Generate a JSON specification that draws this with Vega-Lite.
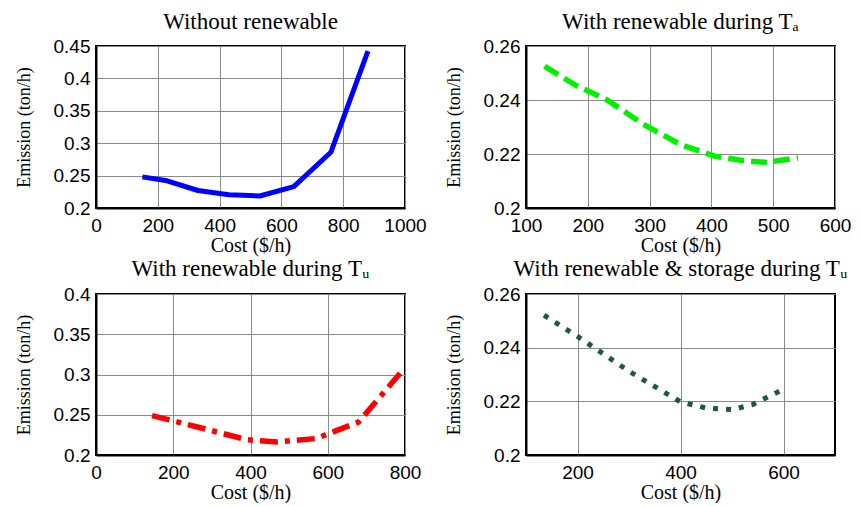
{
  "$schema": "https://vega.github.io/schema/vega-lite/v6.json",
  "background": "white",
  "padding": {"left": 14, "top": 10, "right": 5, "bottom": 0},
  "datasets": {
    "noRenewable": [
      {"cost": 150, "emission": 0.248},
      {"cost": 230, "emission": 0.242},
      {"cost": 330, "emission": 0.227},
      {"cost": 430, "emission": 0.2205},
      {"cost": 530, "emission": 0.2185},
      {"cost": 640, "emission": 0.233},
      {"cost": 760, "emission": 0.286},
      {"cost": 880, "emission": 0.442}
    ],
    "renewableTa": [
      {"cost": 130, "emission": 0.2525},
      {"cost": 180, "emission": 0.2455},
      {"cost": 230, "emission": 0.2402},
      {"cost": 290, "emission": 0.231},
      {"cost": 350, "emission": 0.2235},
      {"cost": 405, "emission": 0.2192},
      {"cost": 450, "emission": 0.2176},
      {"cost": 490, "emission": 0.2169},
      {"cost": 540, "emission": 0.2186}
    ],
    "renewableTu": [
      {"cost": 145, "emission": 0.249},
      {"cost": 265, "emission": 0.2345},
      {"cost": 390, "emission": 0.219},
      {"cost": 470, "emission": 0.2162},
      {"cost": 570, "emission": 0.2205},
      {"cost": 680, "emission": 0.241},
      {"cost": 790, "emission": 0.303}
    ],
    "storageTu": [
      {"cost": 135, "emission": 0.2521},
      {"cost": 200, "emission": 0.2442},
      {"cost": 300, "emission": 0.2312},
      {"cost": 400, "emission": 0.2198},
      {"cost": 450, "emission": 0.2175},
      {"cost": 500, "emission": 0.2169},
      {"cost": 540, "emission": 0.2188},
      {"cost": 600, "emission": 0.2245}
    ]
  },
  "columns": 2,
  "bounds": "flush",
  "spacing": {"row": 86, "column": 121},
  "concat": [
    {
      "width": 309,
      "height": 162,
      "title": {"text": "Without renewable", "offset": 3},
      "data": {"name": "noRenewable"},
      "mark": {"type": "line", "color": "#0000ff", "strokeWidth": 5, "strokeJoin": "round"},
      "encoding": {
        "x": {"field": "cost", "type": "quantitative", "title": "Cost ($/h)",
              "scale": {"domain": [0, 1000], "nice": false},
              "axis": {"values": [0, 200, 400, 600, 800, 1000]}},
        "y": {"field": "emission", "type": "quantitative", "title": "Emission (ton/h)",
              "scale": {"domain": [0.2, 0.45], "nice": false, "zero": false},
              "axis": {"values": [0.2, 0.25, 0.3, 0.35, 0.4, 0.45]}}
      }
    },
    {
      "width": 309,
      "height": 162,
      "title": {"text": "With renewable during Tₐ", "offset": 3},
      "data": {"name": "renewableTa"},
      "mark": {"type": "line", "color": "#00f000", "strokeWidth": 5.5, "strokeDash": [16, 7]},
      "encoding": {
        "x": {"field": "cost", "type": "quantitative", "title": "Cost ($/h)",
              "scale": {"domain": [100, 600], "nice": false, "zero": false},
              "axis": {"values": [100, 200, 300, 400, 500, 600]}},
        "y": {"field": "emission", "type": "quantitative", "title": "Emission (ton/h)",
              "scale": {"domain": [0.2, 0.26], "nice": false, "zero": false},
              "axis": {"values": [0.2, 0.22, 0.24, 0.26]}}
      }
    },
    {
      "width": 309,
      "height": 161,
      "title": {"text": "With renewable during Tᵤ", "offset": 4},
      "data": {"name": "renewableTu"},
      "mark": {"type": "line", "color": "#ff0000", "strokeWidth": 5.5, "strokeDash": [18, 7, 5, 7]},
      "encoding": {
        "x": {"field": "cost", "type": "quantitative", "title": "Cost ($/h)",
              "scale": {"domain": [0, 800], "nice": false},
              "axis": {"values": [0, 200, 400, 600, 800]}},
        "y": {"field": "emission", "type": "quantitative", "title": "Emission (ton/h)",
              "scale": {"domain": [0.2, 0.4], "nice": false, "zero": false},
              "axis": {"values": [0.2, 0.25, 0.3, 0.35, 0.4]}}
      }
    },
    {
      "width": 309,
      "height": 161,
      "title": {"text": "With renewable & storage during Tᵤ", "offset": 4},
      "data": {"name": "storageTu"},
      "mark": {"type": "line", "color": "#1e5a3a", "strokeWidth": 5, "strokeDash": [5, 8]},
      "encoding": {
        "x": {"field": "cost", "type": "quantitative", "title": "Cost ($/h)",
              "scale": {"domain": [100, 700], "nice": false, "zero": false},
              "axis": {"values": [200, 400, 600]}},
        "y": {"field": "emission", "type": "quantitative", "title": "Emission (ton/h)",
              "scale": {"domain": [0.2, 0.26], "nice": false, "zero": false},
              "axis": {"values": [0.2, 0.22, 0.24, 0.26]}}
      }
    }
  ],
  "config": {
    "view": {"stroke": "#000000", "strokeWidth": 2},
    "title": {"font": "Liberation Serif", "fontSize": 23, "fontWeight": "normal", "color": "#000000", "anchor": "middle"},
    "axis": {
      "domainColor": "#000000",
      "domainWidth": 2,
      "ticks": false,
      "grid": true,
      "gridColor": "#8a8a8a",
      "gridWidth": 1,
      "gridOpacity": 1,
      "labelFont": "Liberation Sans",
      "labelFontSize": 19,
      "labelColor": "#000000",
      "labelFlush": false,
      "labelOverlap": false,
      "labelBound": false,
      "format": "~r",
      "titleFont": "Liberation Serif",
      "titleFontWeight": "normal",
      "titleColor": "#000000"
    },
    "axisX": {"labelPadding": 8, "titleFontSize": 20, "titlePadding": 0},
    "axisY": {"labelPadding": 6, "titleFontSize": 18, "titlePadding": 20}
  }
}
